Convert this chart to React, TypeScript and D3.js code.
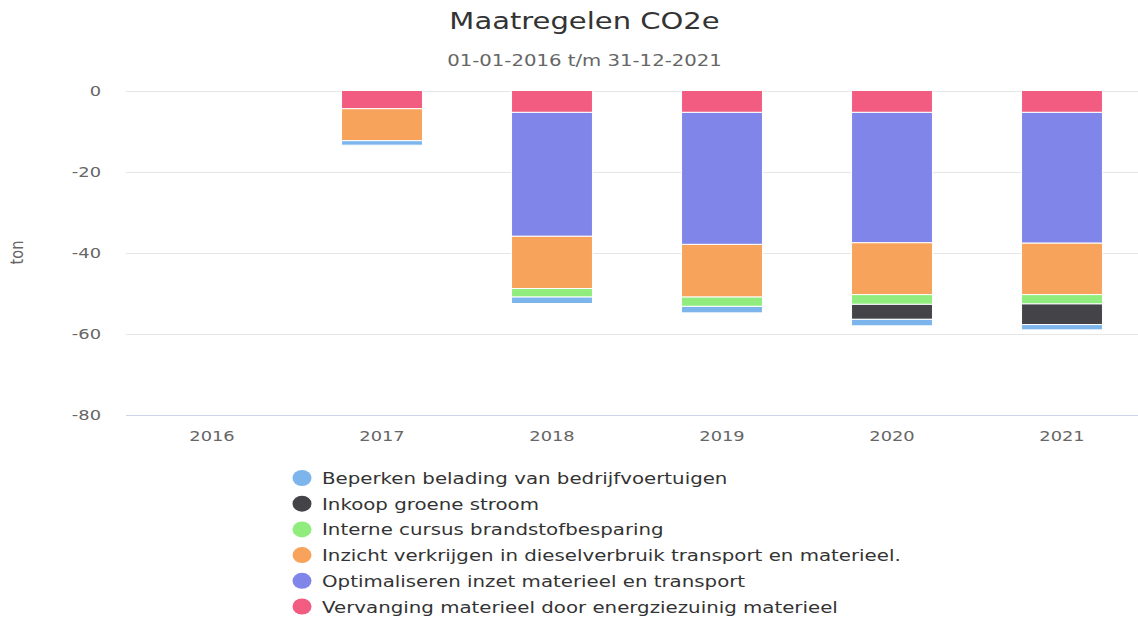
import React from "react";
import * as d3 from "d3";

const categories = ["2016", "2017", "2018", "2019", "2020", "2021"];

// series in legend order
const seriesNames = [
  "Beperken belading van bedrijfvoertuigen",
  "Inkoop groene stroom",
  "Interne cursus brandstofbesparing",
  "Inzicht verkrijgen in dieselverbruik transport en materieel.",
  "Optimaliseren inzet materieel en transport",
  "Vervanging materieel door energziezuinig materieel",
];
const seriesColors = ["#7cb5ec", "#434348", "#90ed7d", "#f7a35c", "#8085e9", "#f15c80"];

const beperken = [0, -1.1, -1.6, -1.6, -1.6, -1.3];
const inkoop = [0, 0, 0, 0, -3.7, -5.1];
const interne = [0, 0, -2.1, -2.3, -2.4, -2.3];
const inzicht = [0, -7.9, -12.9, -13.0, -12.8, -12.7];
const optimaliseren = [0, 0, -30.6, -32.6, -32.2, -32.3];
const vervanging = [0, -4.5, -5.4, -5.4, -5.4, -5.4];

const seriesValues = [beperken, inkoop, interne, inzicht, optimaliseren, vervanging];

const yTicks = [0, -20, -40, -60, -80];

const W = 1138;
const H = 618;
const plotLeft = 127;
const plotRight = 1147;
const plotTop = 90.5;
const plotBottom = 414.5;

const FONT = "'DejaVu Sans', sans-serif";
const SX = 1.23; // horizontal stretch of the reference text

function T(props: {
  x: number;
  y: number;
  size: number;
  fill: string;
  anchor?: "start" | "middle" | "end";
  rotate?: number;
  children: React.ReactNode;
}) {
  const { x, y, size, fill, anchor = "start", rotate = 0, children } = props;
  const tf = rotate
    ? `translate(${x},${y}) rotate(${rotate}) scale(1,${SX})`
    : `translate(${x},${y}) scale(${SX},1)`;
  return (
    <text transform={tf} textAnchor={anchor} fontFamily={FONT} fontSize={size} fill={fill}>
      {children}
    </text>
  );
}

export default function App() {
  const x = d3.scaleBand<string>().domain(categories).range([plotLeft, plotRight]).padding(0);
  const y = d3.scaleLinear().domain([-80, 0]).range([plotBottom, plotTop]);
  const barW = x.step() * 0.476;

  // stacking: last series closest to zero
  const stackOrder = [5, 4, 3, 2, 1, 0];
  const rects: React.ReactNode[] = [];
  categories.forEach((c, ci) => {
    let acc = 0;
    stackOrder.forEach((si) => {
      const v = seriesValues[si][ci];
      if (v === 0) return;
      const y0 = y(acc);
      const y1 = y(acc + v);
      acc += v;
      const cx = (x(c) as number) + x.step() / 2;
      rects.push(
        <rect
          key={`${ci}-${si}`}
          x={cx - barW / 2}
          y={Math.min(y0, y1)}
          width={barW}
          height={Math.abs(y1 - y0)}
          fill={seriesColors[si]}
          stroke="#ffffff"
          strokeWidth={1}
        />
      );
    });
  });

  const legendX = 302;
  const legendY0 = 478;
  const legendStep = 25.7;

  return (
    <svg width={W} height={H} style={{ position: "absolute", left: 0, top: 0, background: "#fff" }}>
      <rect x={0} y={0} width={W} height={H} fill="#ffffff" />
      <T x={584.5} y={29} size={23.6} fill="#333333" anchor="middle">
        Maatregelen CO2e
      </T>
      <T x={584.5} y={66} size={16} fill="#666666" anchor="middle">
        01-01-2016 t/m 31-12-2021
      </T>
      {yTicks.map((t) => (
        <g key={t}>
          <line
            x1={plotLeft - 1}
            x2={plotRight}
            y1={Math.round(y(t)) + 0.5}
            y2={Math.round(y(t)) + 0.5}
            stroke={t === -80 ? "#ccd6eb" : "#e6e6e6"}
            strokeWidth={1}
          />
          <T x={101} y={y(t) + 5} size={14.5} fill="#666666" anchor="end">
            {t}
          </T>
        </g>
      ))}
      <T x={23} y={(plotTop + plotBottom) / 2} size={14.5} fill="#666666" anchor="middle" rotate={-90}>
        ton
      </T>
      {categories.map((c) => (
        <T key={c} x={(x(c) as number) + x.step() / 2} y={441} size={14.5} fill="#666666" anchor="middle">
          {c}
        </T>
      ))}
      {rects}
      {seriesNames.map((n, i) => (
        <g key={n}>
          <ellipse cx={legendX} cy={legendY0 + i * legendStep} rx={9.5} ry={8} fill={seriesColors[i]} />
          <T x={322} y={legendY0 + i * legendStep + 6} size={16.1} fill="#333333">
            {n}
          </T>
        </g>
      ))}
    </svg>
  );
}
